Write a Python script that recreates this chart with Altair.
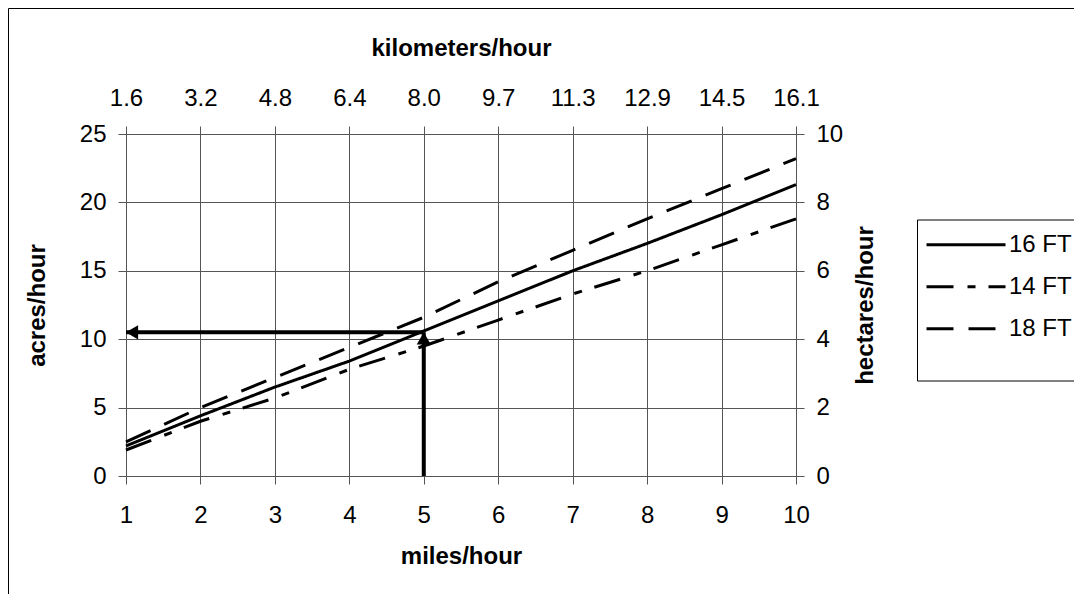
import altair as alt
import pandas as pd

# ---- data ----
mph = [1, 2, 3, 4, 5, 6, 7, 8, 9, 10]
acres_16ft = [2.2, 4.4, 6.5, 8.4, 10.6, 12.8, 15.0, 17.0, 19.1, 21.3]
acres_14ft = [1.9, 4.0, 5.7, 7.8, 9.5, 11.4, 13.3, 15.0, 16.9, 18.8]
acres_18ft = [2.5, 5.0, 7.2, 9.4, 11.6, 14.2, 16.5, 18.8, 21.0, 23.2]
series_names = ["16 FT", "14 FT", "18 FT"]
km_labels = ["1.6", "3.2", "4.8", "6.4", "8.0", "9.7", "11.3", "12.9", "14.5", "16.1"]
acre_ticks = [0, 5, 10, 15, 20, 25]
hectare_ticks = [0, 2, 4, 6, 8, 10]
example_mph = 5
example_acres = 10.5

# ---- tables ----
rows = []
for name, vals in zip(series_names, [acres_16ft, acres_14ft, acres_18ft]):
    for m, a in zip(mph, vals):
        rows.append({"mph": m, "acres": a, "swath": name})
lines_df = pd.DataFrame(rows)

h_arrow = pd.DataFrame([{"mph": mph[0], "mph_end": example_mph, "acres": example_acres}])
v_arrow = pd.DataFrame([{"mph": example_mph, "acres": acre_ticks[0], "acres_end": example_acres}])
head_left = pd.DataFrame([{"mph": mph[0], "acres": example_acres}])
head_up = pd.DataFrame([{"mph": example_mph, "acres": example_acres}])
sec_df = pd.DataFrame({"mph": mph, "hectares": [0] * len(mph)})

GRID = "#555555"
FONT = "Liberation Sans"

x_enc = alt.X(
    "mph:Q",
    scale=alt.Scale(domain=[1, 10], nice=False, zero=False),
    axis=alt.Axis(
        orient="bottom", values=mph, format="d", title="miles/hour", grid=True,
        labelPadding=19, titlePadding=17,
    ),
)
y_enc = alt.Y(
    "acres:Q",
    scale=alt.Scale(domain=[0, 25], nice=False, zero=True),
    axis=alt.Axis(
        orient="left", values=acre_ticks, format="d", title="acres/hour", grid=True,
        labelPadding=12, titlePadding=30,
    ),
)

dash_scale = alt.Scale(
    domain=series_names,
    range=[[1, 0], [27, 14, 8, 13], [27, 15]],
)

lines = alt.Chart(lines_df).mark_line(color="black", strokeWidth=3, strokeCap="butt").encode(
    x=x_enc,
    y=y_enc,
    strokeDash=alt.StrokeDash(
        "swath:N",
        scale=dash_scale,
        sort=series_names,
        legend=alt.Legend(
            title=None,
            orient="none",
            legendX=799,
            legendY=91,
            padding=0,
            symbolType="stroke",
            symbolSize=6241,
            symbolStrokeWidth=3,
            symbolStrokeColor="black",
            clipHeight=39.5,
            rowPadding=2,
            labelOffset=2,
            labelFontSize=24,
            labelFont=FONT,
            labelColor="black",
            labelLimit=200,
        ),
    ),
)

h_rule = alt.Chart(h_arrow).mark_rule(color="black", strokeWidth=4).encode(
    x=x_enc, x2=alt.X2("mph_end"), y=y_enc
)
v_rule = alt.Chart(v_arrow).mark_rule(color="black", strokeWidth=4).encode(
    x=x_enc, y=y_enc, y2=alt.Y2("acres_end")
)
h_head = alt.Chart(head_left).mark_point(
    shape="triangle-left", size=200, filled=True, color="black", opacity=1, xOffset=6
).encode(x=x_enc, y=y_enc)
v_head = alt.Chart(head_up).mark_point(
    shape="triangle-up", size=200, filled=True, color="black", opacity=1, yOffset=6
).encode(x=x_enc, y=y_enc)

main = alt.layer(lines, h_rule, v_rule, h_head, v_head)

km_expr = "[" + ",".join("'" + s + "'" for s in km_labels) + "][round(datum.value) - 1]"

secondary = alt.Chart(sec_df).mark_point(opacity=0).encode(
    x=alt.X(
        "mph:Q",
        scale=alt.Scale(domain=[1, 10], nice=False, zero=False),
        axis=alt.Axis(
            orient="top", values=mph, labelExpr=km_expr, title="kilometers/hour",
            grid=False, labelPadding=16, titlePadding=26,
        ),
    ),
    y=alt.Y(
        "hectares:Q",
        scale=alt.Scale(domain=[0, 10], nice=False),
        axis=alt.Axis(
            orient="right", values=hectare_ticks, format="d", title="hectares/hour",
            grid=False, labelPadding=12, titlePadding=35, titleAngle=270,
        ),
    ),
)

one = alt.Data(values=[{"k": 0}])
frame_left = alt.Chart(one).mark_rule(color="black", strokeWidth=1).encode(
    x=alt.value(-117.5), y=alt.value(-125.5), y2=alt.value(600)
)
frame_top = alt.Chart(one).mark_rule(color="black", strokeWidth=1).encode(
    x=alt.value(-117.5), x2=alt.value(1000), y=alt.value(-125.5)
)
legend_box = alt.Chart(one).mark_rect(fillOpacity=0, stroke="black", strokeWidth=1).encode(
    x=alt.value(791.5), x2=alt.value(1000), y=alt.value(86), y2=alt.value(247)
)

chart = (
    alt.layer(main, secondary, frame_left, frame_top, legend_box)
    .resolve_scale(x="independent", y="independent", strokeDash="independent")
    .properties(
        width=670,
        height=342,
        autosize=alt.AutoSizeParams(type="none"),
        padding={"left": 118, "top": 126, "right": 278, "bottom": 118},
        background="white",
    )
    .configure(font=FONT)
    .configure_view(stroke=None)
    .configure_axis(
        labelFont=FONT,
        titleFont=FONT,
        labelFontSize=24,
        titleFontSize=24,
        titleFontWeight="bold",
        labelColor="black",
        titleColor="black",
        domainColor=GRID,
        tickColor=GRID,
        gridColor=GRID,
        gridOpacity=1,
        gridWidth=1,
        domainWidth=1,
        tickWidth=1,
        tickSize=8,
        labelFlush=False,
        labelOverlap=False,
    )
)

chart.save("out.html", embed_options={"renderer": "svg", "actions": False})
